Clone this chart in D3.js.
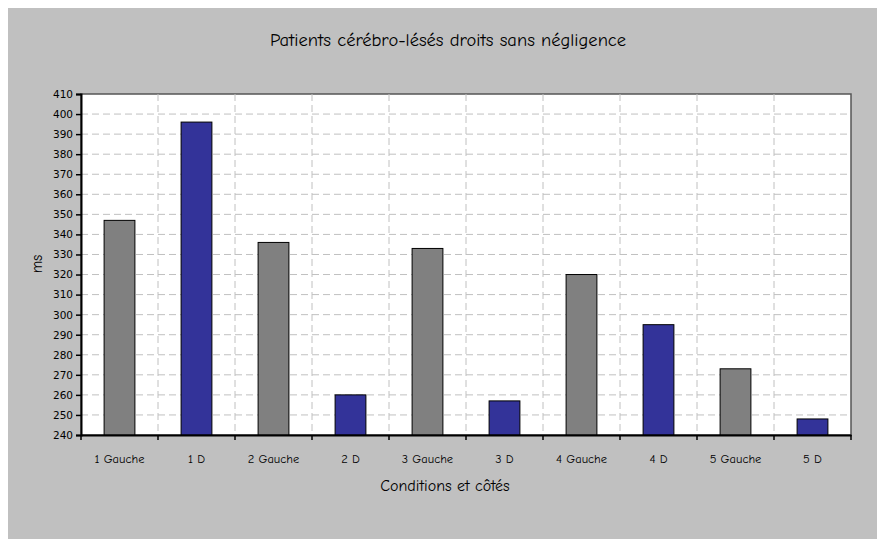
<!DOCTYPE html>
<html><head><meta charset="utf-8">
<script src="https://cdn.jsdelivr.net/npm/d3@7"></script>
<style>body{margin:0;background:#fff}svg{display:block}</style>
</head><body>
<script>
const categories = ["1 Gauche","1 D","2 Gauche","2 D","3 Gauche","3 D","4 Gauche","4 D","5 Gauche","5 D"];
const values = [347,396,336,260,333,257,320,295,273,248];
const sides = ["G","D","G","D","G","D","G","D","G","D"];
const yTicks = d3.range(240, 411, 10);
const title = "Patients cérébro-lésés droits sans négligence";
const xTitle = "Conditions et côtés";
const yTitle = "ms";

const W = 877, H = 539;
const m = {left:81, right:26, top:94, bottom:104};
const font = "'Comic Sans MS','Comic Neue','DejaVu Sans Condensed','DejaVu Sans',sans-serif";
const svg = d3.select("body").append("svg").attr("width",W).attr("height",H);
svg.append("rect").attr("x",8).attr("y",8).attr("width",W-8).attr("height",H-8).attr("fill","#c0c0c0");

const x = d3.scaleBand().domain(categories).range([m.left, W-m.right]).paddingInner(0).paddingOuter(0);
const y = d3.scaleLinear().domain([240,410]).range([H-m.bottom, m.top]);

svg.append("rect").attr("x",m.left).attr("y",m.top).attr("width",W-m.right-m.left).attr("height",H-m.bottom-m.top)
  .attr("fill","#fff").attr("stroke","#555").attr("stroke-width",1.5);

// gridlines
svg.append("g").selectAll("line").data(yTicks.slice(1,-1)).join("line")
  .attr("x1",m.left).attr("x2",W-m.right).attr("y1",d=>y(d)).attr("y2",d=>y(d))
  .attr("stroke","#c0c0c0").attr("stroke-dasharray","7,4");
svg.append("g").selectAll("line").data(categories.slice(1)).join("line")
  .attr("x1",d=>x(d)).attr("x2",d=>x(d)).attr("y1",m.top).attr("y2",H-m.bottom)
  .attr("stroke","#c0c0c0").attr("stroke-dasharray","7,4");

// bars
const bw = x.bandwidth()*0.4;
svg.append("g").selectAll("rect").data(values).join("rect")
  .attr("x",(d,i)=>x(categories[i])+x.bandwidth()/2-bw/2)
  .attr("width",bw)
  .attr("y",d=>y(d)).attr("height",d=>y(240)-y(d))
  .attr("fill",(d,i)=>sides[i]==="G"?"#808080":"#333399")
  .attr("stroke","#000").attr("stroke-width",1);

// axes
const ya = svg.append("g").attr("transform",`translate(${m.left},0)`)
  .call(d3.axisLeft(y).tickValues(yTicks).tickSize(5).tickPadding(3));
ya.selectAll("text").attr("font-family","Tahoma,Verdana,'DejaVu Sans',sans-serif").attr("font-size",10.5).attr("fill","#000");
ya.select(".domain").attr("stroke","#000").attr("stroke-width",2);
ya.selectAll(".tick line").attr("stroke","#000").attr("stroke-width",1.5);

const xa = svg.append("g").attr("transform",`translate(0,${H-m.bottom})`)
  .call(d3.axisBottom(x).tickSize(0).tickPadding(19));
xa.selectAll("text").attr("font-family",font).attr("font-size",12.5).attr("fill","#000");
xa.select(".domain").attr("stroke","#000").attr("stroke-width",2);
svg.append("g").selectAll("line").data(categories.concat(["end"])).join("line")
  .attr("x1",(d,i)=>m.left+i*x.step()).attr("x2",(d,i)=>m.left+i*x.step())
  .attr("y1",H-m.bottom).attr("y2",H-m.bottom+5).attr("stroke","#000").attr("stroke-width",1.5);

svg.append("text").attr("x",448).attr("y",46).attr("text-anchor","middle")
  .attr("font-family",font).attr("font-size",18.5).text(title);
svg.append("text").attr("x",445).attr("y",491).attr("text-anchor","middle")
  .attr("font-family",font).attr("font-size",16).text(xTitle);
svg.append("text").attr("transform","translate(42,264) rotate(-90)").attr("text-anchor","middle")
  .attr("font-family",font).attr("font-size",15).text(yTitle);
</script>
</body></html>
